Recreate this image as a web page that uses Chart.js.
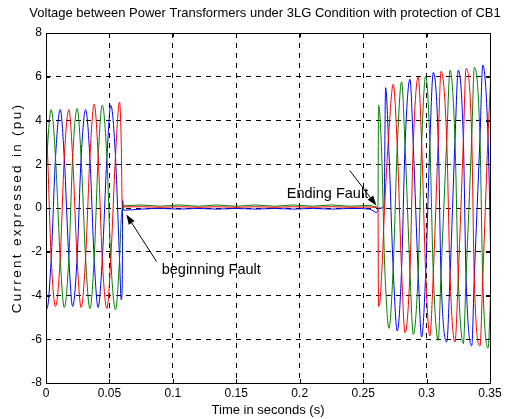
<!DOCTYPE html>
<html>
<head>
<meta charset="utf-8">
<script src="https://cdn.jsdelivr.net/npm/chart.js@4.4.0/dist/chart.umd.min.js"></script>
<style>
  html, body { margin: 0; padding: 0; background: #fff; }
</style>
</head>
<body>
<canvas id="chart" width="505" height="419"></canvas>
<script>
// time axis (s) shared by the three phases
const timeS = [
  0, 0.0008, 0.0041, 0.0075, 0.0112, 0.0144, 0.0180, 0.0210, 0.0245, 0.0277,
  0.0312, 0.0346, 0.0380, 0.0411, 0.0444, 0.0480, 0.0511, 0.0548, 0.0580, 0.0593,
  0.0601, 0.0604, 0.0612, 0.0750, 0.0900, 0.1050, 0.1200, 0.1350, 0.1500, 0.1650,
  0.1800, 0.1950, 0.2100, 0.2250, 0.2400, 0.2550, 0.2605, 0.2617, 0.2621, 0.2630,
  0.2650, 0.2665, 0.2677, 0.2703, 0.2737, 0.2769, 0.2803, 0.2830, 0.2869, 0.2895,
  0.2934, 0.2961, 0.2993, 0.3026, 0.3053, 0.3092, 0.3114, 0.3159, 0.3185, 0.3224,
  0.3250, 0.3290, 0.3311, 0.3356, 0.3376, 0.3421, 0.3443, 0.3484, 0.3510
];
const phaseRed = [
  3.9, 3.1, -2.3, -4.5, -2.3, 2.3, 4.5, 2.3, -2.3, -4.55,
  -2.3, 2.3, 4.75, 2.4, -2.4, -4.6, -2.3, 2.4, 4.85, 3.0,
  0.1, 0.05, 0.05, 0.06, 0.03, 0.06, 0.03, 0.06, 0.03, 0.06,
  0.03, 0.06, 0.03, 0.06, 0.03, 0.05, 0.02, 0, -4.5, -4.4,
  -2.6, -0.5, 0.9, 3.5, 5.66, 2.8, -2.85, -5.7, -2.9, 2.9,
  6.0, 3.0, -3.0, -5.85, -3.0, 3.1, 6.25, 3.1, -3.1, -6.13,
  -3.1, 3.1, 6.38, 3.2, -3.2, -6.3, -3.2, 3.2, 6.5
];
const phaseGreen = [
  1.4, 2.4, 4.5, 2.3, -2.3, -4.55, -2.3, 2.3, 4.55, 2.3,
  -2.3, -4.6, -2.3, 2.3, 4.7, 2.3, -2.4, -4.65, -2.3, -0.5,
  0.05, 0.1, 0.1, 0.14, 0.08, 0.14, 0.08, 0.14, 0.08, 0.14,
  0.08, 0.14, 0.08, 0.14, 0.08, 0.12, 0.05, 0.05, 4.7, 4.4,
  1.8, -1.8, -3.6, -5.5, -2.7, 2.8, 5.77, 2.9, -2.9, -5.78,
  -2.9, 2.9, 6.03, 3.0, -3.0, -6.05, -3.0, 3.1, 6.3, 3.1,
  -3.2, -6.2, -3.2, 3.2, 6.43, 3.2, -3.3, -6.4, -3.2
];
const phaseBlue = [
  -4.4, -4.6, -2.3, 2.3, 4.5, 2.3, -2.3, -4.5, -2.3, 2.3,
  4.5, 2.3, -2.4, -4.55, -2.3, 2.3, 4.7, 2.3, -2.4, -4.2,
  -3.5, 0.35, -0.1, -0.05, -0.02, -0.05, -0.02, -0.05, -0.02, -0.05,
  -0.02, -0.05, -0.02, -0.05, -0.02, -0.05, -0.2, -0.1, 0, 0,
  0, 0.1, 5.5, 2.6, -2.8, -5.62, -2.8, 2.8, 5.89, 2.9,
  -3.0, -5.9, -3.0, 3.0, 6.2, 3.1, -3.1, -6.13, -3.1, 3.1,
  6.3, 3.1, -3.1, -6.3, -3.2, 3.2, 6.53, 3.3, -3.3
];

const xTicks = [0, 0.05, 0.1, 0.15, 0.2, 0.25, 0.3, 0.35];
const xTickLabels = ["0", "0.05", "0.1", "0.15", "0.2", "0.25", "0.3", "0.35"];
const yTicks = [-8, -6, -4, -2, 0, 2, 4, 6, 8];
const yTickLabels = ["-8", "-6", "-4", "-2", "0", "2", "4", "6", "8"];

const chartTitle = "Voltage between Power Transformers under 3LG Condition with protection of CB1";
const yTitle = "Current expressed in (pu)";
const noteText = ["beginning Fault", "Ending Fault"];

// arrows + labels, placed in data units
const notes = [
  { text: noteText[0], at: [0.0912, -2.85], tail: [0.0872, -2.45], tip: [0.0633, -0.3] },
  { text: noteText[1], at: [0.1898, 0.66], tail: [0.2395, 1.71], tip: [0.2605, 0.11] }
];

const FONT = "'Liberation Sans', Arial, sans-serif";

function series(vals, color) {
  return {
    data: timeS.map((t, i) => ({ x: t, y: vals[i] })),
    borderColor: color,
    borderWidth: 1,
    pointRadius: 0,
    cubicInterpolationMode: "monotone",
    fill: false
  };
}

const decor = {
  id: "decor",
  afterDatasetsDraw(chart) {
    const { ctx, scales: { x, y } } = chart;
    ctx.save();
    ctx.strokeStyle = "#000";
    ctx.fillStyle = "#000";
    ctx.lineWidth = 1;
    notes.forEach(n => {
      const x0 = x.getPixelForValue(n.tail[0]), y0 = y.getPixelForValue(n.tail[1]);
      const x1 = x.getPixelForValue(n.tip[0]), y1 = y.getPixelForValue(n.tip[1]);
      const ang = Math.atan2(y1 - y0, x1 - x0);
      const len = 10, w = 3.5;
      const bx = x1 - len * Math.cos(ang), by = y1 - len * Math.sin(ang);
      ctx.beginPath();
      ctx.moveTo(x0, y0);
      ctx.lineTo(bx, by);
      ctx.stroke();
      ctx.beginPath();
      ctx.moveTo(x1, y1);
      ctx.lineTo(bx + w * Math.sin(ang), by - w * Math.cos(ang));
      ctx.lineTo(bx - w * Math.sin(ang), by + w * Math.cos(ang));
      ctx.closePath();
      ctx.fill();
      ctx.font = "14.5px " + FONT;
      ctx.textAlign = "left";
      ctx.textBaseline = "middle";
      ctx.fillText(n.text, x.getPixelForValue(n.at[0]), y.getPixelForValue(n.at[1]));
    });
    ctx.restore();
  },
  afterDraw(chart) {
    const { ctx, chartArea: a, scales: { x, y } } = chart;
    ctx.save();
    ctx.strokeStyle = "#000";
    ctx.lineWidth = 1;
    ctx.strokeRect(Math.round(a.left) + 0.5, Math.round(a.top) + 0.5,
      Math.round(a.right - a.left), Math.round(a.bottom - a.top));
    // inward tick marks like matlab
    ctx.beginPath();
    xTicks.forEach(v => {
      const px = Math.round(x.getPixelForValue(v)) + 0.5;
      ctx.moveTo(px, a.bottom); ctx.lineTo(px, a.bottom - 4);
      ctx.moveTo(px, a.top); ctx.lineTo(px, a.top + 4);
    });
    yTicks.forEach(v => {
      const py = Math.round(y.getPixelForValue(v)) + 0.5;
      ctx.moveTo(a.left, py); ctx.lineTo(a.left + 4, py);
      ctx.moveTo(a.right, py); ctx.lineTo(a.right - 4, py);
    });
    ctx.stroke();
    // title
    ctx.fillStyle = "#000";
    ctx.font = "13px " + FONT;
    ctx.textAlign = "center";
    ctx.textBaseline = "middle";
    ctx.fillText(chartTitle, (a.left + a.right) / 2 - 3, 13);
    // y axis title, matlab spreads its letters out
    ctx.translate(17, (a.top + a.bottom) / 2);
    ctx.rotate(-Math.PI / 2);
    ctx.font = "13.5px " + FONT;
    ctx.letterSpacing = "2.3px";
    ctx.fillText(yTitle, 0, 0);
    ctx.restore();
  }
};

new Chart(document.getElementById("chart"), {
  type: "line",
  data: {
    datasets: [
      series(phaseRed, "#ff0000"),
      series(phaseGreen, "#008000"),
      series(phaseBlue, "#0000ff")
    ]
  },
  options: {
    responsive: false,
    animation: false,
    layout: { padding: { left: 0, right: 15, top: 33, bottom: 0 } },
    plugins: { legend: { display: false }, title: { display: false }, tooltip: { enabled: false } },
    scales: {
      x: {
        type: "linear",
        min: 0,
        max: 0.35,
        afterBuildTicks: s => { s.ticks = xTicks.map(v => ({ value: v })); },
        afterFit: s => { s.height = 36; },
        ticks: {
          padding: 3,
          color: "#000",
          font: { family: FONT, size: 12 },
          maxRotation: 0,
          callback: (v, i) => xTickLabels[i]
        },
        grid: { color: "#000", lineWidth: 1, drawTicks: false },
        border: { display: false, dash: [5, 5] },
        title: {
          display: true,
          text: "Time in seconds (s)",
          color: "#000",
          font: { family: FONT, size: 13 },
          padding: { top: 0, bottom: 1 }
        }
      },
      y: {
        type: "linear",
        min: -8,
        max: 8,
        afterBuildTicks: s => { s.ticks = yTicks.map(v => ({ value: v })); },
        afterFit: s => { s.width = 46; },
        ticks: {
          padding: 4,
          color: "#000",
          font: { family: FONT, size: 12 },
          callback: (v, i) => yTickLabels[i]
        },
        grid: { color: "#000", lineWidth: 1, drawTicks: false },
        border: { display: false, dash: [5, 5] },
        title: { display: false }
      }
    }
  },
  plugins: [decor]
});
</script>
</body>
</html>
